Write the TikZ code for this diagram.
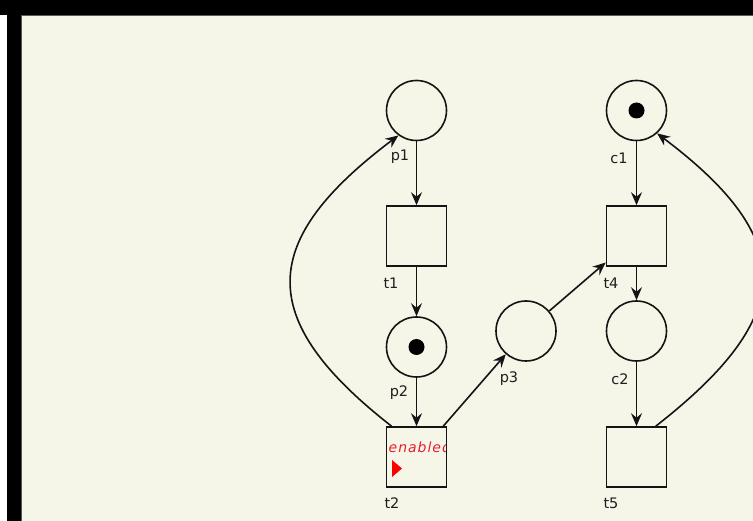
\documentclass[tikz,border=0pt]{standalone}
\usepackage{fontspec}
\setmainfont{DejaVu Sans}
\newfontfamily\enfont[LetterSpace=7]{DejaVu Sans}
\usetikzlibrary{arrows.meta}
\definecolor{bg}{RGB}{245,245,232}
\definecolor{ln}{RGB}{20,20,20}
\definecolor{lb}{RGB}{30,30,30}
\definecolor{enred}{RGB}{232,30,50}
\begin{document}
\begin{tikzpicture}[x=1pt,y=-1pt,
  place/.style={circle,draw=ln,line width=1.6pt,minimum size=60pt,inner sep=0pt,fill=bg},
  trans/.style={rectangle,draw=ln,line width=1.6pt,minimum size=60pt,inner sep=0pt,fill=bg},
  tok/.style={circle,fill=black,minimum size=16pt,inner sep=0pt},
  lbl/.style={inner sep=0pt,text=lb,font=\fontsize{14.5}{16}\selectfont},
  arc/.style={draw=ln,line width=1.6pt,-{Stealth[length=13pt,width=11pt,inset=4.5pt]}}]
\useasboundingbox (0,0) rectangle (753,521);
\fill[white] (0,0) rectangle (753,521);
\fill[black] (0,0) rectangle (753,15);
\fill[black] (7,0) rectangle (21,521);
\fill[bg] (21,15) rectangle (753,521);
\draw[black!65, line width=0.8pt] (21.4,521) -- (21.4,15.4) -- (753,15.4);

\node[place] (p1) at (416.5,110.5) {};
\node[trans] (t1) at (416.5,236) {};
\node[place] (p2) at (416.5,347) {};
\node[trans] (t2) at (416.5,457) {};
\node[place] (p3) at (526,331) {};
\node[place] (c1) at (636.5,110.5) {};
\node[trans] (t4) at (636.5,236) {};
\node[place] (c2) at (636.5,331) {};
\node[trans] (t5) at (636.5,457) {};

\node[tok] (p2tok) at (p2) {};
\node[tok] (c1tok) at (c1) {};

\node[lbl] (p1l) at (400,157) {p1};
\node[lbl] (t1l) at (391,283) {t1};
\node[lbl] (p2l) at (399,393) {p2};
\node[lbl] (t2l) at (392,503) {t2};
\node[lbl] (p3l) at (509,379) {p3};
\node[lbl] (c1l) at (619,158) {c1};
\node[lbl] (t4l) at (611,283) {t4};
\node[lbl] (c2l) at (620,379) {c2};
\node[lbl] (t5l) at (611,503) {t5};

\begin{scope}
\clip (387.4,428.4) rectangle (445.6,485.6);
\node[anchor=base west,inner sep=0pt,text=enred,font=\enfont\itshape\fontsize{14}{16}\selectfont] (en) at (388.5,453) {enabled};
\end{scope}
\fill[red] (392,460) -- (392,477) -- (402,468.5) -- cycle;

\draw[arc] (p1) -- (t1);
\draw[arc] (t1) -- (p2);
\draw[arc] (p2) -- (t2);
\draw[arc] (t2) -- (p3);
\draw[arc] (p3) -- (t4);
\draw[arc] (c1) -- (t4);
\draw[arc] (t4) -- (c2);
\draw[arc] (c2) -- (t5);
\draw[arc] (t2.129) .. controls +(-142:175) and +(143:175) .. (p1.234);
\draw[arc] (t5.58) .. controls +(-38:178) and +(37:178) .. (c1.-48);
\end{tikzpicture}
\end{document}
